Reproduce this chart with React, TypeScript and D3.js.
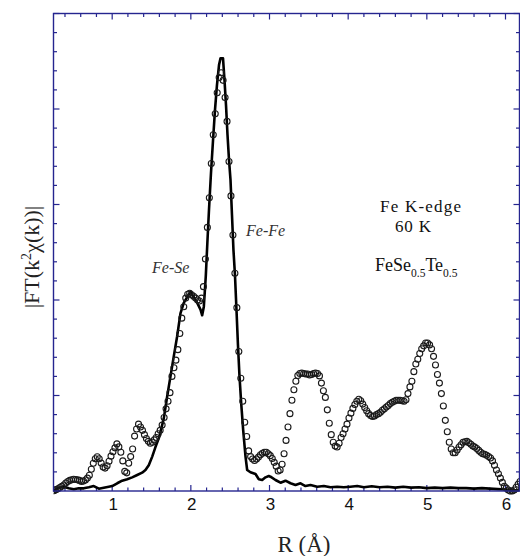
import React from "react";
import * as d3 from "d3";

// Experimental |FT| (open circles), uniform R grid
const DATA_R_START = 0.26;
const DATA_R_STEP = 0.025;
const DATA_Y = [
  0.003, 0.014, 0.024, 0.036, 0.05, 0.063, 0.083, 0.1, 0.111, 0.118,
  0.123, 0.12, 0.117, 0.111, 0.1, 0.104, 0.115, 0.135, 0.165, 0.228,
  0.29, 0.337, 0.359, 0.337, 0.292, 0.252, 0.24, 0.265, 0.311, 0.365,
  0.411, 0.452, 0.493, 0.462, 0.405, 0.315, 0.205, 0.19, 0.29, 0.36,
  0.44, 0.575, 0.65, 0.7, 0.67, 0.635, 0.59, 0.55, 0.52, 0.5,
  0.51, 0.535, 0.56, 0.6, 0.635, 0.69, 0.77, 0.86, 0.94, 1.03,
  1.2, 1.29, 1.37, 1.48, 1.65, 1.81, 1.93, 2.02, 2.06, 2.07,
  2.055, 2.04, 2.02, 2.0, 1.99, 2.02, 2.14, 2.43, 2.76, 3.07,
  3.43, 3.73, 3.95, 4.17, 4.33, 4.38, 4.3, 4.12, 3.87, 3.45,
  3.09, 2.68, 2.28, 1.92, 1.46, 1.18, 0.94, 0.72, 0.57, 0.42,
  0.36, 0.335, 0.32, 0.335, 0.355, 0.38, 0.395, 0.405, 0.405, 0.39,
  0.37, 0.34, 0.3, 0.26, 0.21, 0.22, 0.28, 0.39, 0.53, 0.67,
  0.81, 0.95, 1.06, 1.15, 1.21, 1.23, 1.235, 1.23, 1.225, 1.225,
  1.215, 1.22, 1.23, 1.235, 1.23, 1.205, 1.13, 1.05, 0.98, 0.85,
  0.71, 0.59, 0.51, 0.47, 0.46, 0.5, 0.56, 0.6, 0.65, 0.7,
  0.765, 0.815, 0.865, 0.905, 0.94, 0.96, 0.945, 0.91, 0.875, 0.84,
  0.81, 0.79, 0.78, 0.785, 0.8, 0.81, 0.825, 0.845, 0.86, 0.88,
  0.895, 0.915, 0.93, 0.94, 0.95, 0.95, 0.95, 0.945, 0.94, 0.955,
  1.02, 1.09, 1.15, 1.25, 1.33, 1.38, 1.44, 1.49, 1.52, 1.55,
  1.55, 1.53, 1.49, 1.41, 1.32, 1.22, 1.13, 1.02, 0.89, 0.74,
  0.62, 0.51, 0.44, 0.4, 0.4, 0.43, 0.46, 0.485, 0.51, 0.515,
  0.52, 0.505, 0.49, 0.47, 0.46, 0.445, 0.425, 0.405, 0.39, 0.385,
  0.375, 0.36, 0.345, 0.315, 0.27, 0.22, 0.18, 0.135, 0.09, 0.05,
  0.03, 0.01, 0.0, 0.0, 0.01, 0.04, 0.07, 0.1,
];

// Fit (solid line)
const FIT_R = [
  0.258, 0.301, 0.385, 0.448, 0.512, 0.575, 0.639, 0.703, 0.766, 0.83,
  0.893, 0.957, 1.0, 1.064, 1.127, 1.191, 1.254, 1.318, 1.381, 1.423,
  1.465, 1.509, 1.55, 1.6, 1.656, 1.699, 1.741, 1.783, 1.826, 1.868,
  1.91, 1.953, 1.995, 2.037, 2.081, 2.123, 2.144, 2.165, 2.19, 2.21,
  2.231, 2.256, 2.281, 2.307, 2.332, 2.358, 2.377, 2.409, 2.428, 2.447,
  2.466, 2.485, 2.504, 2.523, 2.542, 2.561, 2.58, 2.599, 2.618, 2.64,
  2.665, 2.695, 2.716, 2.758, 2.822, 2.864, 2.907, 2.949, 2.991, 3.012,
  3.076, 3.14, 3.203, 3.267, 3.33, 3.394, 3.457, 3.521, 3.606, 3.69,
  3.775, 3.86, 3.944, 4.029, 4.115, 4.2, 4.3, 4.4, 4.5, 4.6,
  4.7, 4.8, 4.9, 5.0, 5.1, 5.2, 5.3, 5.4, 5.5, 5.6,
  5.7, 5.8, 5.9, 6.0, 6.08, 6.178,
];
const FIT_Y = [
  0.003, 0.028, 0.045, 0.028, 0.018, 0.028, 0.028, 0.039, 0.052, 0.024,
  0.035, 0.045, 0.052, 0.081, 0.108, 0.123, 0.143, 0.168, 0.192, 0.22,
  0.27, 0.36, 0.46, 0.57, 0.76, 0.99, 1.2, 1.41, 1.62, 1.86,
  1.97, 2.03, 2.09, 2.03, 1.97, 1.9, 1.84, 1.93, 2.25, 2.6,
  2.95, 3.33, 3.66, 3.99, 4.25, 4.46, 4.53, 4.53, 4.3, 4.04,
  3.73, 3.47, 3.26, 2.89, 2.52, 2.26, 1.9, 1.53, 1.21, 0.92,
  0.64, 0.36, 0.22, 0.196, 0.178, 0.123, 0.115, 0.143, 0.157, 0.15,
  0.115, 0.087, 0.108, 0.081, 0.063, 0.081, 0.052, 0.063, 0.045, 0.052,
  0.039, 0.045, 0.039, 0.045, 0.052, 0.04, 0.05, 0.04, 0.045, 0.035,
  0.045, 0.035, 0.04, 0.03, 0.035, 0.03, 0.035, 0.03, 0.03, 0.025,
  0.03, 0.025, 0.02, 0.015, 0.005, 0.01,
];

const X_DOMAIN = [0.254, 6.178];
const Y_DOMAIN = [0, 5];
const X_MAJOR = [1, 2, 3, 4, 5, 6];
const X_MINOR_STEP = 0.2;
const Y_MAJOR = [0, 1, 2, 3, 4, 5];
const Y_MINOR_STEP = 0.2;

const AXIS = "#25258f";
const SERIF = "'Liberation Serif', 'Times New Roman', serif";
const SANS = "'Liberation Sans', Arial, sans-serif";

export default function App() {
  const W = 520, H = 556;
  const L = 53.5, R = 519.5, T = 13.5, B = 491;
  const x = d3.scaleLinear().domain(X_DOMAIN).range([L, R]);
  const y = d3.scaleLinear().domain(Y_DOMAIN).range([B, T]);

  const data = DATA_Y.map((v, i) => ({ r: DATA_R_START + i * DATA_R_STEP, v }));
  const fit = FIT_R.map((r, i) => ({ r, v: FIT_Y[i] }));
  const line = d3.line<{ r: number; v: number }>().x((d) => x(d.r)).y((d) => y(d.v));

  const xMinor = d3.range(0.4, 6.19, X_MINOR_STEP).filter((t) => Math.abs(t - Math.round(t)) > 1e-6 && t > X_DOMAIN[0] && t < X_DOMAIN[1]);
  const yMinor = d3.range(0, 5.001, Y_MINOR_STEP).filter((t) => Math.abs(t - Math.round(t)) > 1e-6);

  const MAJ = 6, MIN = 3.5;

  return (
    <svg width={W} height={H} style={{ position: "absolute", left: 0, top: 0, background: "#fff" }}>
      <rect x={0} y={0} width={W} height={H} fill="#fff" />
      <defs>
        <clipPath id="plot">
          <rect x={L} y={T - 2} width={R - L + 1} height={B - T + 6} />
        </clipPath>
      </defs>

      {/* ticks */}
      <g stroke={AXIS} strokeWidth={1.2}>
        {X_MAJOR.map((t) => (
          <g key={"xm" + t}>
            <line x1={x(t)} x2={x(t)} y1={B} y2={B - MAJ} />
            <line x1={x(t)} x2={x(t)} y1={T} y2={T + MAJ} />
          </g>
        ))}
        {xMinor.map((t) => (
          <g key={"xn" + t}>
            <line x1={x(t)} x2={x(t)} y1={B} y2={B - MIN} />
            <line x1={x(t)} x2={x(t)} y1={T} y2={T + MIN} />
          </g>
        ))}
        {Y_MAJOR.map((t) => (
          <g key={"ym" + t}>
            <line x1={L} x2={L + MAJ} y1={y(t)} y2={y(t)} />
            <line x1={R} x2={R - MAJ} y1={y(t)} y2={y(t)} />
          </g>
        ))}
        {yMinor.map((t) => (
          <g key={"yn" + t}>
            <line x1={L} x2={L + MIN} y1={y(t)} y2={y(t)} />
            <line x1={R} x2={R - MIN} y1={y(t)} y2={y(t)} />
          </g>
        ))}
      </g>

      <g clipPath="url(#plot)">
        <path d={line(fit) || ""} fill="none" stroke="#000" strokeWidth={2.6} strokeLinejoin="round" />
        {data.map((d, i) => (
          <circle key={i} cx={x(d.r)} cy={y(d.v)} r={3} fill="none" stroke="#1a1a1a" strokeWidth={1.1} />
        ))}
      </g>

      {/* frame */}
      <rect x={L} y={T} width={R - L} height={B - T} fill="none" stroke={AXIS} strokeWidth={1.4} />

      {/* x tick labels */}
      {X_MAJOR.map((t) => (
        <text key={"xl" + t} x={x(t) + 1} y={510} textAnchor="middle" fontFamily={SANS} fontSize={17} fill="#111">
          {t}
        </text>
      ))}

      {/* axis titles */}
      <text x={304} y={552} textAnchor="middle" fontFamily={SERIF} fontSize={23} fill="#222">
        R (Å)
      </text>
      <text transform="translate(39,257) rotate(-90)" textAnchor="middle" fontFamily={SERIF} fontSize={22} fill="#222">
        |FT(k<tspan dy={-8} fontSize={14}>2</tspan><tspan dy={8}>χ(k))|</tspan>
      </text>

      {/* annotations */}
      <text x={152} y={273} fontFamily={SERIF} fontStyle="italic" fontSize={16} fill="#333">Fe-Se</text>
      <text x={246} y={236} fontFamily={SERIF} fontStyle="italic" fontSize={16} fill="#333">Fe-Fe</text>

      <text x={380} y={212} fontFamily={SERIF} fontSize={17} fill="#111" textLength={81} lengthAdjust="spacing">Fe K-edge</text>
      <text x={395} y={232} fontFamily={SERIF} fontSize={17} fill="#111" textLength={36} lengthAdjust="spacing">60 K</text>
      <text x={375} y={271} fontFamily={SERIF} fontSize={18} fill="#111">
        FeSe<tspan dy={6} fontSize={11.5}>0.5</tspan><tspan dy={-6}>Te</tspan><tspan dy={6} fontSize={11.5}>0.5</tspan>
      </text>
    </svg>
  );
}
